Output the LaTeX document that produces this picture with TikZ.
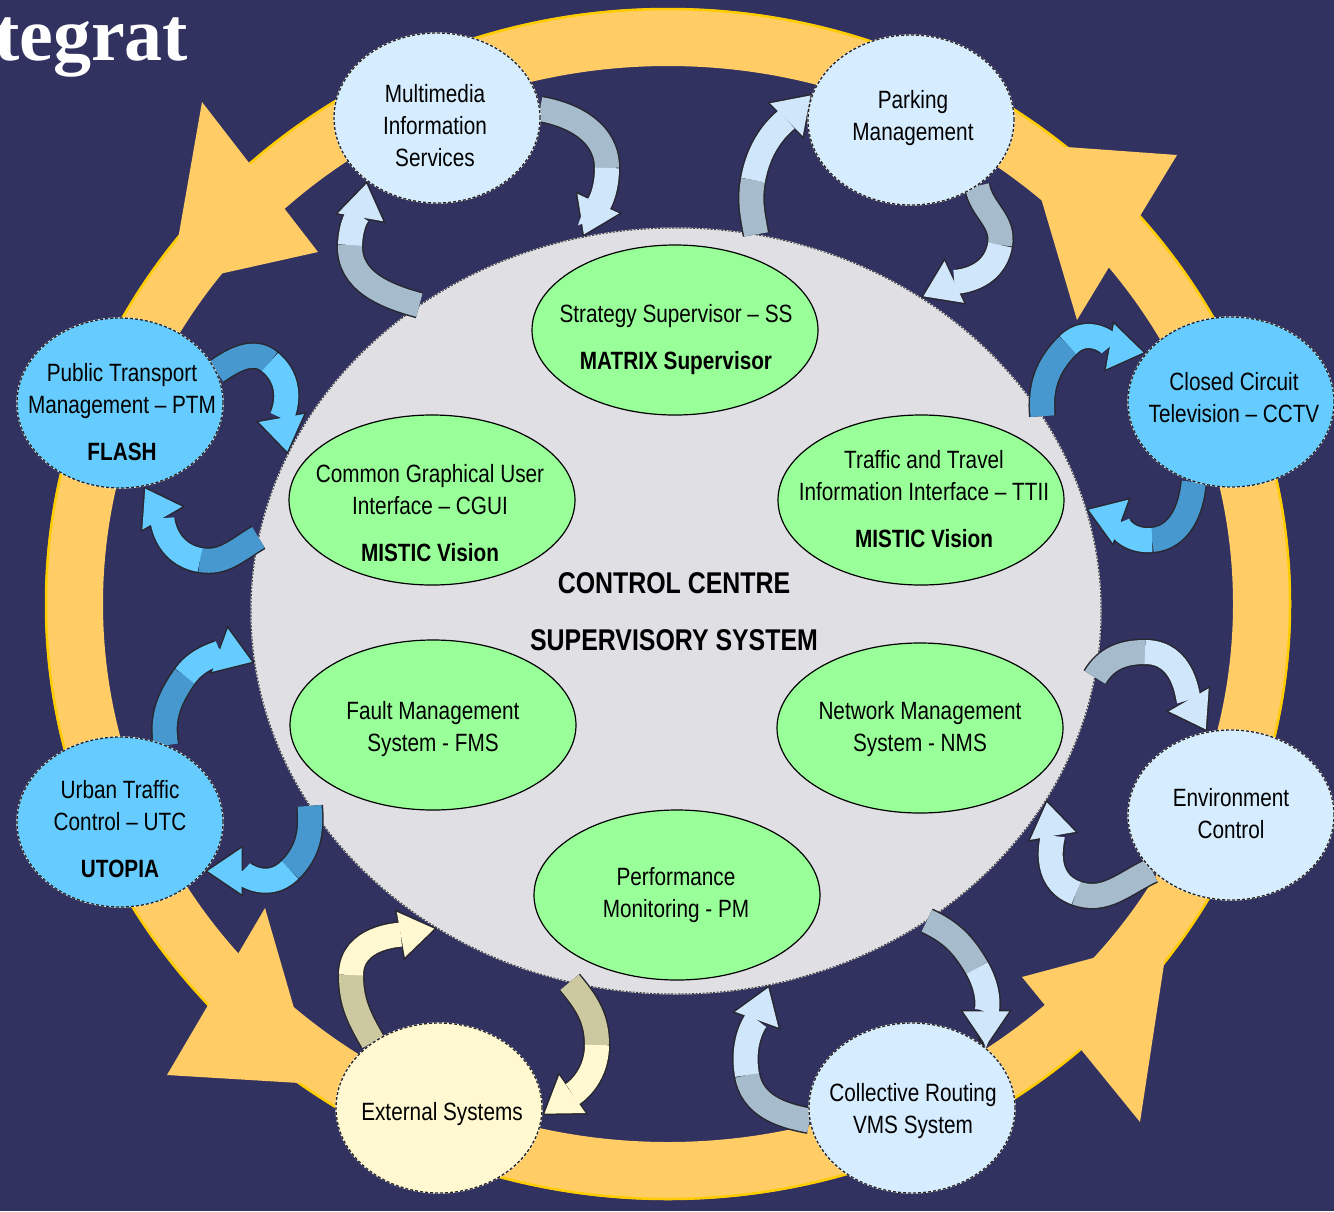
\documentclass[tikz,border=0pt]{standalone}
\usepackage{fontspec}
\newfontfamily\nar[FakeStretch=0.83]{Liberation Sans}
\newfontfamily\ttlfont{Liberation Serif}
\usetikzlibrary{shapes.geometric, arrows.meta}
\pgfdeclarelayer{bglayer}
\pgfdeclarelayer{arrlayer}
\pgfsetlayers{bglayer,arrlayer,main}

\definecolor{bgcol}{RGB}{50,50,96}
\definecolor{ringcol}{RGB}{255,204,102}
\definecolor{ringgold}{RGB}{255,204,0}
\definecolor{lightnode}{RGB}{214,236,255}
\definecolor{brightnode}{RGB}{102,204,255}
\definecolor{creamnode}{RGB}{255,248,208}
\definecolor{centregray}{RGB}{224,224,228}
\definecolor{greenfill}{RGB}{153,255,153}
\definecolor{lighttail}{RGB}{166,188,204}
\definecolor{lighthead}{RGB}{208,230,250}
\definecolor{brighttail}{RGB}{70,152,206}
\definecolor{brighthead}{RGB}{102,204,255}
\definecolor{creamtail}{RGB}{204,200,160}
\definecolor{creamhead}{RGB}{255,248,208}
\definecolor{arrborder}{RGB}{40,40,50}

\newcommand\blkarrow[8]{%
  \pgfmathsetmacro\blkinA{#4+180}%
  \pgfmathsetmacro\blkinB{#6+180}%
  \draw[arrbord] (#1) to[out=#2,in=\blkinA] (#3) to[out=#4,in=\blkinB] (#5);
  \draw[arrfill=#7] (#1) to[out=#2,in=\blkinA] (#3);
  \draw[arrfill=#8, arrtip] (#3) to[out=#4,in=\blkinB] (#5);
}

\begin{document}
\begin{tikzpicture}[x=1pt, y=-1pt,
  nodebase/.style={ellipse, minimum width=206pt, minimum height=170pt, inner sep=0pt,
    draw=black!85, line width=1.3pt, dash pattern=on 3pt off 2pt,
    preaction={draw=white, line width=1.3pt, solid}},
  nodelight/.style={nodebase, fill=lightnode},
  nodebright/.style={nodebase, fill=brightnode},
  nodecream/.style={nodebase, fill=creamnode},
  centreell/.style={ellipse, minimum width=850pt, minimum height=766pt, inner sep=0pt,
    fill=centregray, draw=black!75, line width=1pt, dash pattern=on 2pt off 1.5pt,
    preaction={draw=white, line width=1pt, solid}},
  greenell/.style={ellipse, minimum width=286pt, minimum height=170pt, inner sep=0pt,
    fill=greenfill, draw=black, line width=1.2pt},
  txt/.style={align=center, inner sep=0pt, text=black, font=\nar\fontsize{25}{32}\selectfont},
  ctitle/.style={inner sep=0pt, text=black, font=\nar\bfseries\fontsize{30}{34}\selectfont},
  arrbord/.style={line width=27pt, draw=arrborder, -{Triangle[length=38.2pt,width=51.7pt,line width=0pt]}},
  arrfill/.style={line width=24pt, draw=#1},
  arrtip/.style={-{Triangle[length=34pt,width=46pt,line width=0pt]}, shorten >=2.7pt}
]
\useasboundingbox (0,0) rectangle (1334,1211);

\begin{pgfonlayer}{bglayer}
  \fill[bgcol] (0,0) rectangle (1334,1211);
  % ring
  \draw[ringcol, line width=58pt] (668,604) ellipse [x radius=594pt, y radius=567pt];
  \draw[ringgold, line width=2.5pt] (668,604) ellipse [x radius=622pt, y radius=595pt];
  % ring arrowheads
  \fill[ringcol] (202,102) -- (318,252) -- (170,285) -- cycle;
  \fill[ringcol] (1177,155) -- (1077,320) -- (1025,144) -- cycle;
  \fill[ringcol] (265,908) -- (167,1075) -- (316,1084) -- cycle;
  \fill[ringcol] (1022,977) -- (1140,1122) -- (1168,938) -- cycle;
  % central circle
  \node[centreell] (cc) at (676,611) {};
\end{pgfonlayer}

% title
\node[anchor=base west, inner sep=0pt, text=white, font=\ttlfont\bfseries\fontsize{76}{80}\selectfont] (ttl) at (-6,60) {tegrat};

% outer nodes
\node[nodelight]  (mm) at (437,118) {};
\node[nodelight]  (pk) at (911,120) {};
\node[nodebright] (ct) at (1231,402) {};
\node[nodelight]  (en) at (1231,815) {};
\node[nodelight]  (cr) at (912,1108) {};
\node[nodecream]  (ex) at (439,1108) {};
\node[nodebright] (ut) at (120,822) {};
\node[nodebright] (pt) at (120,403) {};

% inner green nodes
\node[greenell] (ss) at (675,330) {};
\node[greenell] (cg) at (432,500) {};
\node[greenell] (tt) at (921,500) {};
\node[greenell] (fm) at (433,725) {};
\node[greenell] (nm) at (920,728) {};
\node[greenell] (pm) at (677,895) {};

% texts
\node[txt] (mmt) at (435,126) {Multimedia\\Information\\Services};
\node[txt] (pkt) at (913,118) {Parking\\Management};
\node[txt] (ctt) at (1234,398) {Closed Circuit\\Television – CCTV};
\node[txt] (ent) at (1231,814) {Environment\\Control};
\node[txt] (crt) at (913,1111) {Collective Routing\\VMS System};
\node[txt] (ext) at (442,1114) {External Systems};
\node[txt] (utt) at (120,829) {Urban Traffic\\Control – UTC\\[15pt]\textbf{UTOPIA}};
\node[txt] (ptt) at (122,412) {Public Transport\\Management – PTM\\[15pt]\textbf{FLASH}};
\node[txt] (sst) at (676,340) {Strategy Supervisor – SS\\[15pt]\textbf{MATRIX Supervisor}};
\node[txt] (cgt) at (430,513) {Common Graphical User\\Interface – CGUI\\[15pt]\textbf{MISTIC Vision}};
\node[txt] (ttt) at (924,499) {Traffic and Travel\\Information Interface – TTII\\[15pt]\textbf{MISTIC Vision}};
\node[txt] (fmt) at (433,729) {Fault Management\\System - FMS};
\node[txt] (nmt) at (920,729) {Network Management\\System - NMS};
\node[txt] (pmt) at (676,895) {Performance\\Monitoring - PM};
\node[ctitle] (cca) at (674,583) {CONTROL CENTRE};
\node[ctitle] (ccb) at (674,640) {SUPERVISORY SYSTEM};

% curved block arrows
\coordinate (a1m) at (607,168);
\coordinate (a2m) at (350,245);
\coordinate (b1m) at (753,180);
\coordinate (b2m) at (1000,245);
\coordinate (c1m) at (1068,345);
\coordinate (c2m) at (1152,540);
\coordinate (d1m) at (1145,652);
\coordinate (d2m) at (1076,893);
\coordinate (f1m) at (977,968);
\coordinate (f2m) at (747,1075);
\coordinate (g1m) at (351,975);
\coordinate (g2m) at (597,1045);
\coordinate (h1m) at (185,676);
\coordinate (h2m) at (290,870);
\coordinate (i1m) at (270,362);
\coordinate (i2m) at (200,560);

\begin{pgfonlayer}{arrlayer}
\blkarrow{mm.5}{-10}{a1m}{-90}{cc.104}{-115}{lighttail}{lighthead}
\blkarrow{cc.130}{165}{a2m}{88}{mm.222}{80}{lighttail}{lighthead}
\blkarrow{cc.78}{100}{b1m}{80}{pk.165}{45}{lighttail}{lighthead}
\blkarrow{pk.-45}{-80}{b2m}{-100}{cc.52}{205}{lighttail}{lighthead}
\blkarrow{cc.28}{95}{c1m}{45}{ct.150}{-10}{brighttail}{brighthead}
\blkarrow{ct.245}{-95}{c2m}{185}{cc.14}{160}{brighttail}{brighthead}
\blkarrow{cc.-9}{60}{d1m}{0}{en.106}{-60}{lighttail}{lighthead}
\blkarrow{en.215}{205}{d2m}{160}{cc.-27}{100}{lighttail}{lighthead}
\blkarrow{cc.-51}{-25}{f1m}{-60}{cr.39}{-90}{lighttail}{lighthead}
\blkarrow{cr.187}{170}{f2m}{100}{cc.-76}{70}{lighttail}{lighthead}
\blkarrow{ex.135}{120}{g1m}{90}{cc.233}{10}{creamtail}{creamhead}
\blkarrow{cc.254}{-50}{g2m}{-90}{ex.-4}{215}{creamtail}{creamhead}
\blkarrow{ut.59}{100}{h1m}{55}{cc.187}{-20}{brighttail}{brighthead}
\blkarrow{cc.208}{-85}{h2m}{-135}{ut.-30}{180}{brighttail}{brighthead}
\blkarrow{pt.18}{35}{i1m}{-40}{cc.158}{-80}{brighttail}{brighthead}
\blkarrow{cc.170}{210}{i2m}{170}{pt.-74}{120}{brighttail}{brighthead}
\end{pgfonlayer}

\end{tikzpicture}
\end{document}
